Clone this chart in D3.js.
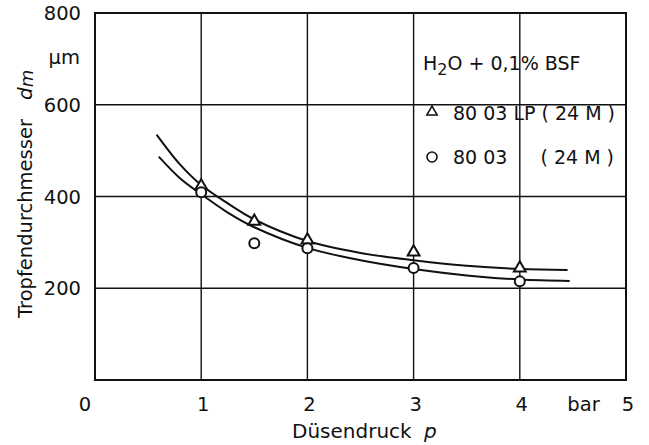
<!DOCTYPE html>
<html lang="de">
<head>
  <meta charset="UTF-8">
  <title>Tropfendurchmesser über Düsendruck</title>
  <script src="https://d3js.org/d3.v7.min.js"></script>
  <style>
    body { margin: 0; background: #fff; }
    svg { display: block; }
    text { font-family: "DejaVu Sans", "Liberation Sans", sans-serif; fill: #111; }
  </style>
</head>
<body>
<svg width="649" height="445"></svg>
<script>
  const pressureLP = [1, 1.5, 2, 3, 4];
  const diamLP = [423, 346, 305, 279, 244];      // 80 03 LP (24 M), Dreiecke
  const pressureStd = [1, 1.5, 2, 3, 4];
  const diamStd = [409, 298, 287, 244, 215];     // 80 03 (24 M), Kreise

  // Ausgleichskurven
  const curveUpperP = [0.58, 0.8, 1, 1.25, 1.5, 2, 2.5, 3, 3.5, 4, 4.45];
  const curveUpperD = [535, 470, 425, 385, 350, 303, 277, 261, 249, 242, 240];
  const curveLowerP = [0.6, 0.8, 1, 1.25, 1.5, 2, 2.5, 3, 3.5, 4, 4.47];
  const curveLowerD = [487, 440, 405, 365, 333, 288, 261, 242, 228, 219, 216];

  const xTicks = [0, 1, 2, 3, 4, 5];
  const yTicks = [200, 400, 600, 800];

  const svg = d3.select("svg");
  const mLeft = 95, mRight = 626, mTop = 13, mBottom = 380;

  const x = d3.scaleLinear().domain([0, 5]).range([mLeft, mRight]);
  const y = d3.scaleLinear().domain([0, 800]).range([mBottom, mTop]);

  // Gitter
  const grid = svg.append("g").attr("stroke", "#111").attr("stroke-width", 1.4);
  grid.selectAll("line.v").data(xTicks.slice(1, -1)).join("line")
    .attr("x1", d => x(d)).attr("x2", d => x(d))
    .attr("y1", mTop).attr("y2", mBottom);
  grid.selectAll("line.h").data(yTicks.slice(0, -1)).join("line")
    .attr("x1", mLeft).attr("x2", mRight)
    .attr("y1", d => y(d)).attr("y2", d => y(d));

  svg.append("rect")
    .attr("x", mLeft).attr("y", mTop)
    .attr("width", mRight - mLeft).attr("height", mBottom - mTop)
    .attr("fill", "none").attr("stroke", "#111").attr("stroke-width", 2);

  // Achsenbeschriftung
  svg.append("g").selectAll("text").data(yTicks).join("text")
    .attr("x", 81).attr("y", d => y(d) + 7)
    .attr("text-anchor", "end").attr("font-size", 19.5)
    .text(d => d);
  svg.append("text").attr("x", 80).attr("y", y(700) + 5)
    .attr("text-anchor", "end").attr("font-size", 19.5).text("µm");

  svg.append("g").selectAll("text").data(xTicks).join("text")
    .attr("x", d => d === 0 ? x(d) - 10 : x(d) + 2).attr("y", 411)
    .attr("text-anchor", "middle").attr("font-size", 19.5)
    .text(d => d);
  svg.append("text").attr("x", x(4.6)).attr("y", 411)
    .attr("text-anchor", "middle").attr("font-size", 19.5).text("bar");

  svg.append("text").attr("x", 292).attr("y", 438)
    .attr("font-size", 20).text("Düsendruck");
  svg.append("text").attr("x", 424).attr("y", 438)
    .attr("font-size", 20).attr("font-style", "italic").text("p");

  svg.append("text")
    .attr("transform", "translate(32,318) rotate(-90)")
    .attr("font-size", 19.5).text("Tropfendurchmesser");
  const dm = svg.append("text")
    .attr("transform", "translate(32,100) rotate(-90)")
    .attr("font-size", 20).attr("font-style", "italic");
  dm.append("tspan").text("d");
  dm.append("tspan").attr("font-size", 18).attr("dy", 1).text("m");

  // Kurven
  const line = d3.line().x(d => x(d[0])).y(d => y(d[1])).curve(d3.curveCatmullRom);
  [[curveUpperP, curveUpperD], [curveLowerP, curveLowerD]].forEach(([ps, ds]) => {
    svg.append("path")
      .datum(ps.map((p, i) => [p, ds[i]]))
      .attr("d", line)
      .attr("fill", "none").attr("stroke", "#111").attr("stroke-width", 2);
  });

  // Messpunkte
  const tri = d3.symbol().type(d3.symbolTriangle).size(60);
  svg.append("g").selectAll("path").data(pressureLP.map((p, i) => [p, diamLP[i]])).join("path")
    .attr("d", tri)
    .attr("transform", d => `translate(${x(d[0])},${y(d[1])})`)
    .attr("fill", "#fff").attr("stroke", "#111").attr("stroke-width", 2);
  svg.append("g").selectAll("circle").data(pressureStd.map((p, i) => [p, diamStd[i]])).join("circle")
    .attr("cx", d => x(d[0])).attr("cy", d => y(d[1])).attr("r", 5)
    .attr("fill", "#fff").attr("stroke", "#111").attr("stroke-width", 2);

  // Legende
  const lg = svg.append("g").attr("font-size", 19);
  const t1 = lg.append("text").attr("x", 423).attr("y", 70);
  t1.append("tspan").text("H");
  t1.append("tspan").attr("font-size", 16).attr("dy", 5).text("2");
  t1.append("tspan").attr("dy", -5).text("O + 0,1%  BSF");

  lg.append("path").attr("d", d3.symbol().type(d3.symbolTriangle).size(45))
    .attr("transform", "translate(432,112)")
    .attr("fill", "none").attr("stroke", "#111").attr("stroke-width", 1.6);
  lg.append("text").attr("x", 453).attr("y", 120).text("80 03  LP ( 24 M )");

  lg.append("circle").attr("cx", 432).attr("cy", 157).attr("r", 5)
    .attr("fill", "none").attr("stroke", "#111").attr("stroke-width", 1.6);
  lg.append("text").attr("x", 453).attr("y", 164).text("80 03");
  lg.append("text").attr("x", 614).attr("y", 164).attr("text-anchor", "end").text("( 24 M )");
</script>
</body>
</html>
